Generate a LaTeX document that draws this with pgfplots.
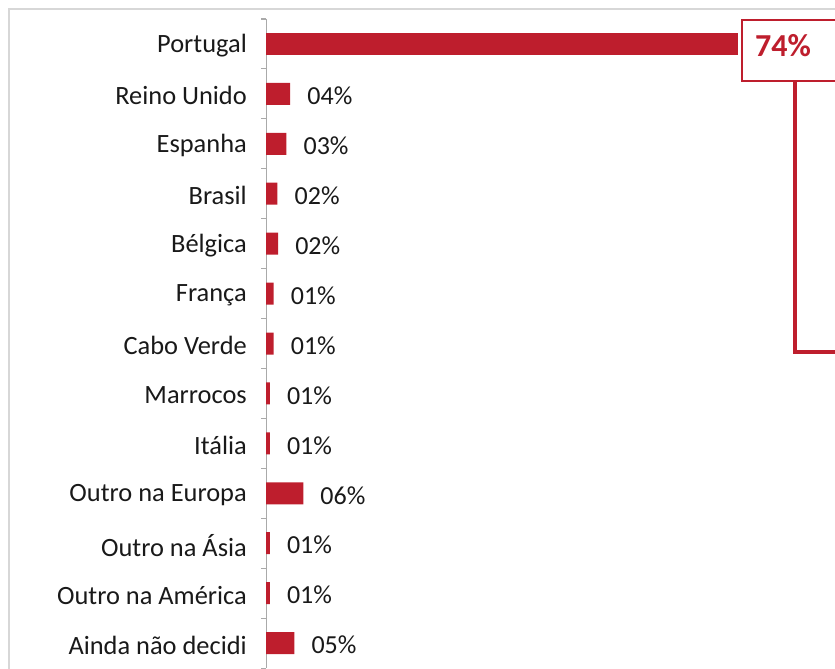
\documentclass[border=0pt]{standalone}
\usepackage{fontspec}
\setmainfont{Carlito}
\usepackage{pgfplots}
\pgfplotsset{compat=1.18}
\definecolor{barred}{RGB}{190,30,45}
\definecolor{axgray}{RGB}{170,170,170}
\definecolor{framegray}{RGB}{215,215,215}
\definecolor{txt}{RGB}{25,25,25}

\begin{document}
\begin{tikzpicture}[x=1pt,y=1pt]
\path[use as bounding box] (0,0) rectangle (835,669);
\clip (0,0) rectangle (835,669);
% outer frame (cropped at right and bottom)
\draw[framegray, line width=1.2pt] (9,-5) -- (9,660) -- (845,660);
\begin{axis}[
  at={(266pt,1pt)}, anchor=south west,
  scale only axis, width=569pt, height=649pt,
  xbar, bar width=22pt, bar shift=0pt,
  xmin=0, xmax=89.27,
  ymin=-0.5, ymax=12.5, y dir=reverse,
  axis x line=none,
  axis y line*=left,
  y axis line style={draw=axgray, line width=1pt, -},
  ytick={-0.5,0.5,...,12.5},
  yticklabels={},
  tick align=outside,
  major tick length=5pt,
  ytick style={draw=axgray, line width=1pt},
  extra y ticks={0,...,12},
  extra y tick labels={Portugal, Reino Unido, Espanha, Brasil, Bélgica, França,
    Cabo Verde, Marrocos, Itália, Outro na Europa, Outro na Ásia,
    Outro na América, Ainda não decidi},
  extra y tick style={ytick style={draw=none},
    yticklabel style={font=\fontsize{26.4}{31}\selectfont, text=txt,
      inner sep=0pt, xshift=-14pt, yshift=-2pt}},
  clip=false,
]
\addplot[fill=barred, draw=none] coordinates {(74,0)};
\addplot[fill=barred, draw=none,
  point meta=explicit symbolic,
  nodes near coords={\pgfplotspointmeta\%},
  every node near coord/.append style={font=\fontsize{26}{31}\selectfont,
    text=txt, anchor=west, inner sep=0pt, xshift=17pt, yshift=-2pt}]
  coordinates {
  (3.8,1) [04]
  (3.2,2) [03]
  (1.8,3) [02]
  (1.9,4) [02]
  (1.2,5) [01]
  (1.2,6) [01]
  (0.6,7) [01]
  (0.6,8) [01]
  (5.85,9) [06]
  (0.6,10) [01]
  (0.6,11) [01]
  (4.45,12) [05]
};
\end{axis}
% callout for Portugal
\draw[barred, line width=3.5pt] (795,588) -- (795,317) -- (850,317);
\draw[barred, line width=2pt, fill=white] (742,649) rectangle (850,588);
\node[barred, anchor=base west, inner sep=0pt,
  font=\bfseries\fontsize{32}{38}\selectfont] at (755,612) {74\%};
\end{tikzpicture}
\end{document}
